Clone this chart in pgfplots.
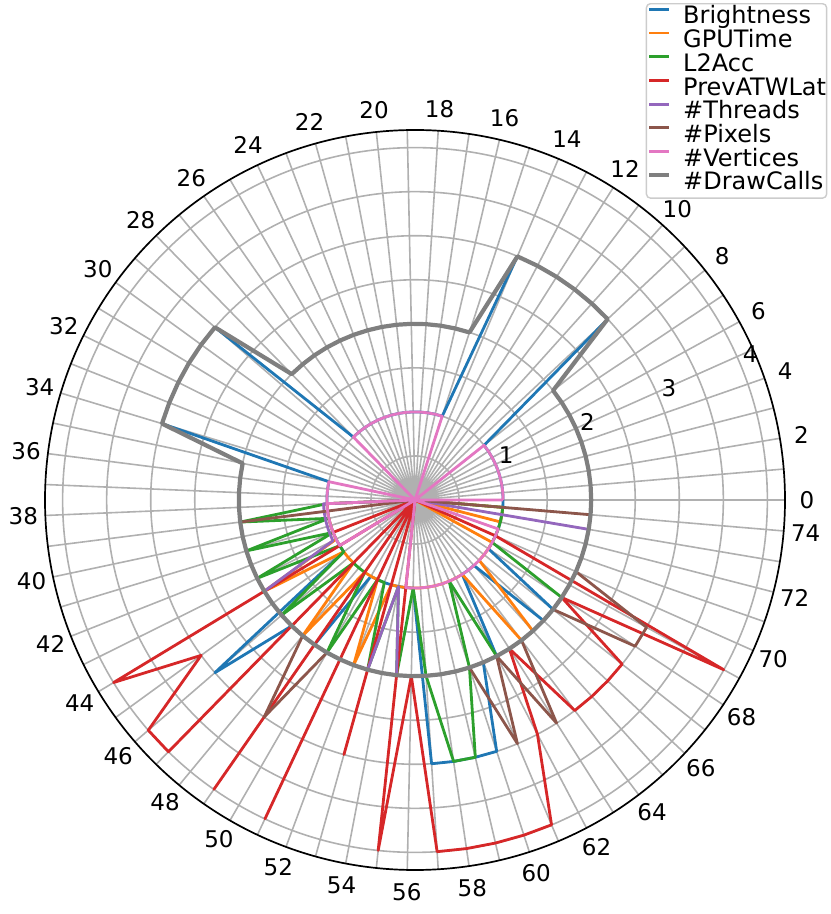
\documentclass[border=0pt]{standalone}
\usepackage{pgfplots}
\pgfplotsset{compat=1.18}
\usepackage{pgfplotstable}
\usepgfplotslibrary{polar}
\usepackage{fontspec}
\setmainfont{DejaVu Sans}
\definecolor{cblue}{HTML}{1F77B4}
\definecolor{corange}{HTML}{FF7F0E}
\definecolor{cgreen}{HTML}{2CA02C}
\definecolor{cred}{HTML}{D62728}
\definecolor{cpurple}{HTML}{9467BD}
\definecolor{cbrown}{HTML}{8C564B}
\definecolor{cpink}{HTML}{E377C2}
\definecolor{cgray}{HTML}{7F7F7F}
\definecolor{gridc}{HTML}{B0B0B0}
\definecolor{legc}{HTML}{CCCCCC}

% one value per index 0..74, plus the closing value (index 75 = index 0)
\pgfplotstableread[row sep=\\]{
r\\
1\\1\\1\\1\\1\\1\\1\\1\\1\\
3\\3\\3\\3\\3\\3\\
1\\1\\1\\1\\1\\1\\1\\1\\1\\1\\1\\1\\1\\1\\
3\\3\\3\\3\\3\\3\\
1\\1\\1\\1\\1\\1\\1\\1\\1\\1\\1\\
3\\
2\\2\\2\\
1\\1\\1\\1\\1\\1\\1\\
3\\3\\3\\3\\
2\\2\\
1\\1\\1\\
2\\2\\
1\\1\\1\\1\\1\\1\\1\\
1\\
}\tblue

\pgfplotstableread[row sep=\\]{
r\\
0\\0\\0\\0\\0\\0\\0\\0\\0\\0\\
0\\0\\0\\0\\0\\0\\0\\0\\0\\0\\
0\\0\\0\\0\\0\\0\\0\\0\\0\\0\\
0\\0\\0\\0\\0\\0\\0\\0\\
1\\1\\1\\1\\1\\1\\
2\\
1\\1\\1\\
2\\
1\\1\\1\\
2\\
1\\1\\1\\1\\1\\1\\1\\1\\1\\1\\1\\
2\\2\\
1\\1\\1\\1\\
0\\0\\
1\\1\\1\\
0\\
}\torange

\pgfplotstableread[row sep=\\]{
r\\
0\\0\\0\\0\\0\\0\\0\\0\\0\\0\\
0\\0\\0\\0\\0\\0\\0\\0\\0\\0\\
0\\0\\0\\0\\0\\0\\0\\0\\0\\0\\
0\\0\\0\\0\\0\\0\\0\\0\\
1\\2\\1\\2\\1\\2\\1\\1\\2\\1\\1\\1\\2\\1\\1\\2\\1\\2\\1\\2\\3\\3\\2\\1\\
2\\2\\2\\2\\2\\2\\2\\
1\\1\\1\\1\\1\\1\\
0\\
}\tgreen

\pgfplotstableread[row sep=\\]{
r\\
0\\0\\0\\0\\0\\0\\0\\0\\0\\0\\
0\\0\\0\\0\\0\\0\\0\\0\\0\\0\\
0\\0\\0\\0\\0\\0\\0\\0\\0\\0\\
0\\0\\0\\0\\0\\0\\0\\0\\0\\0\\
0\\0\\
1\\0\\4\\3\\4\\4\\0\\4\\0\\4\\0\\3\\0\\4\\2\\
4\\4\\4\\4\\4\\
3\\2\\
3\\3\\3\\3\\
2\\4\\1\\
0\\0\\0\\0\\
0\\
}\tred

\pgfplotstableread[row sep=\\]{
r\\
0\\0\\0\\0\\0\\0\\0\\0\\0\\0\\
0\\0\\0\\0\\0\\0\\0\\0\\0\\0\\
0\\0\\0\\0\\0\\0\\0\\0\\0\\0\\
0\\0\\0\\0\\0\\0\\0\\0\\
1.04\\1.04\\1.04\\1.04\\1.04\\1.04\\
2\\2\\2\\2\\2\\2\\2\\2\\2\\2\\
1\\
2\\2\\2\\2\\2\\2\\2\\2\\2\\2\\2\\2\\2\\2\\2\\2\\2\\2\\2\\
0\\
0\\
}\tpurple

\pgfplotstableread[row sep=\\]{
r\\
0\\0\\0\\0\\0\\0\\0\\0\\0\\0\\
0\\0\\0\\0\\0\\0\\0\\0\\0\\0\\
0\\0\\0\\0\\0\\0\\0\\0\\0\\0\\
0\\0\\0\\0\\0\\0\\0\\0\\0\\
2\\2\\2\\2\\2\\2\\2\\2\\2\\2\\
3\\
2\\2\\2\\2\\2\\2\\2\\2\\2\\2\\2\\
3\\2\\3\\
2\\2\\2\\2\\
3\\3\\
2\\2\\2\\2\\2\\
0\\
}\tbrown

\pgfplotstableread[row sep=\\]{
i r\\
0 1\\1 1\\2 1\\3 1\\4 1\\5 1\\6 1\\7 1\\8 1\\
9 0\\10 0\\11 0\\12 0\\13 0\\14 0\\
15 1\\16 1\\17 1\\18 1\\19 1\\20 1\\21 1\\22 1\\23 1\\24 1\\25 1\\26 1\\27 1\\28 1\\
29 0\\30 0\\31 0\\32 0\\33 0\\34 0\\
35 1\\36 1\\37 1\\38 1\\38 0\\38 1\\
39 1\\40 1\\41 1\\42 1\\43 1\\44 1\\
45 0\\46 0\\47 0\\48 0\\49 0\\50 0\\51 0\\52 0\\53 0\\54 0\\
55 1\\56 1\\57 1\\58 1\\59 1\\60 1\\61 1\\62 1\\63 1\\64 1\\65 1\\66 1\\67 1\\68 1\\69 1\\70 1\\71 1\\
72 0\\73 0\\74 0\\
75 1\\
}\tpink

\pgfplotstableread[row sep=\\]{
r\\
2\\2\\2\\2\\2\\2\\2\\2\\2\\
3\\3\\3\\3\\3\\3\\
2\\2\\2\\2\\2\\2\\2\\2\\2\\2\\2\\2\\2\\2\\
3\\3\\3\\3\\3\\3\\
2\\2\\2\\2\\2\\2\\2\\2\\2\\2\\
2\\2\\2\\2\\2\\2\\2\\2\\2\\2\\
2\\2\\2\\2\\2\\2\\2\\2\\2\\2\\
2\\2\\2\\2\\2\\2\\2\\2\\2\\2\\
2\\
}\tgray

\begin{document}
\begin{tikzpicture}
\begin{polaraxis}[
  scale only axis, width=370pt, height=370pt,
  at={(207.5pt,207pt)}, anchor=center,
  clip=false,
  ymin=0, ymax=4.2,
  xtick={0,4.8,9.6,14.4,19.2,24,28.8,33.6,38.4,43.2,48,52.8,57.6,62.4,67.2,72,76.8,81.6,86.4,91.2,96,100.8,105.6,110.4,115.2,120,124.8,129.6,134.4,139.2,144,148.8,153.6,158.4,163.2,168,172.8,177.6,182.4,187.2,192,196.8,201.6,206.4,211.2,216,220.8,225.6,230.4,235.2,240,244.8,249.6,254.4,259.2,264,268.8,273.6,278.4,283.2,288,292.8,297.6,302.4,307.2,312,316.8,321.6,326.4,331.2,336,340.8,345.6,350.4,355.2},
  xticklabels={},
  ytick={0.5,1,1.5,2,2.5,3,3.5,4},
  yticklabels={},
  grid=major,
  major grid style={draw=gridc, line width=0.8pt},
  major tick length=0pt,
  axis line style={black, line width=0.85pt},
  y axis line style={draw=none},
  every axis plot/.append style={line width=1.4pt, line join=round, mark=none},
  legend style={
    at={(axis description cs:0.8118,1.1716)}, anchor=north west,
    draw=legc, line width=0.7pt, rounded corners=2pt,
    fill=white, fill opacity=0.8, text opacity=1,
    inner xsep=0.3pt, inner ysep=1.2pt,
    font=\fontsize{12}{12}\selectfont,
    nodes={inner sep=0pt, text height=8.9pt, text depth=2.95pt},
    column sep=6pt, row sep=0pt,
  },
  legend cell align=left,
  legend image code/.code={\draw[#1] (0pt,4.3pt) -- (10pt,4.3pt);},
]
\addplot[cblue] table[x expr=\coordindex*4.8, y=r] {\tblue};
\addplot[corange] table[x expr=\coordindex*4.8, y=r] {\torange};
\addplot[cgreen] table[x expr=\coordindex*4.8, y=r] {\tgreen};
\addplot[cred] table[x expr=\coordindex*4.8, y=r] {\tred};
\addplot[cpurple] table[x expr=\coordindex*4.8, y=r] {\tpurple};
\addplot[cbrown] table[x expr=\coordindex*4.8, y=r] {\tbrown};
\addplot[cpink] table[x expr=\thisrow{i}*4.8, y=r] {\tpink};
\addplot[cgray, line width=2.1pt] table[x expr=\coordindex*4.8, y=r] {\tgray};
\legend{Brightness,GPUTime,L2Acc,PrevATWLat,\#Threads,\#Pixels,\#Vertices,\#DrawCalls}
\foreach \rr in {1,2,3,4}{
  \edef\tmp{\noexpand\node[anchor=south west, inner sep=1pt, font=\noexpand\fontsize{11.5}{13}\noexpand\selectfont] at (axis cs:22.5,\rr) {\rr};}\tmp
}
\pgfplotsinvokeforeach{0,...,37}{
  \node[font=\fontsize{11.5}{13}\selectfont, inner sep=0pt] at (axis cs:{#1*9.6},4.45) {\the\numexpr 2*#1\relax};
}
\end{polaraxis}
\pgfresetboundingbox
\path[use as bounding box] (0,0) rectangle (415pt,457pt);
\end{tikzpicture}
\end{document}
